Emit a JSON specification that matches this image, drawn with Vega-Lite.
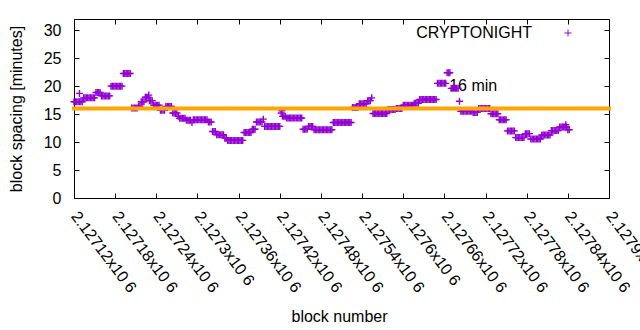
{
  "$schema": "https://vega.github.io/schema/vega-lite/v6.json",
  "width": 535,
  "height": 179,
  "autosize": {"type": "none"},
  "padding": {"left": 74, "top": 19, "right": 31, "bottom": 132},
  "config": {
    "font": "Liberation Sans",
    "view": {"stroke": "#000000", "strokeWidth": 1},
    "axis": {
      "domain": false, "grid": false, "tickColor": "#000000", "tickWidth": 1, "tickSize": -5,
      "labelColor": "#000000", "labelFont": "Liberation Sans", "labelFontSize": 16,
      "titleColor": "#000000", "titleFont": "Liberation Sans", "titleFontSize": 16, "titleFontWeight": "normal"
    }
  },
  "datasets": {
    "pts": [
      {"b":2127120,"v":17.2},{"b":2127122,"v":17.2},{"b":2127124,"v":17.2},{"b":2127126,"v":17.2},{"b":2127128,"v":17.2},{"b":2127130,"v":17.2},{"b":2127132,"v":17.2},
      {"b":2127128,"v":18.7},
      {"b":2127134,"v":17.9},{"b":2127136,"v":17.9},{"b":2127138,"v":17.9},{"b":2127140,"v":17.9},{"b":2127142,"v":17.9},{"b":2127144,"v":17.9},{"b":2127146,"v":17.9},{"b":2127148,"v":17.9},{"b":2127150,"v":17.9},
      {"b":2127152,"v":18.85},{"b":2127154,"v":18.85},{"b":2127156,"v":18.85},{"b":2127158,"v":18.85},
      {"b":2127160,"v":18.25},{"b":2127162,"v":18.25},{"b":2127164,"v":18.25},{"b":2127166,"v":18.25},{"b":2127168,"v":18.25},{"b":2127170,"v":18.25},{"b":2127172,"v":18.25},
      {"b":2127174,"v":20.0},{"b":2127176,"v":20.0},{"b":2127178,"v":20.0},{"b":2127180,"v":20.0},{"b":2127182,"v":20.0},{"b":2127184,"v":20.0},{"b":2127186,"v":20.0},{"b":2127188,"v":20.0},{"b":2127190,"v":20.0},
      {"b":2127192,"v":22.25},{"b":2127194,"v":22.25},{"b":2127196,"v":22.25},{"b":2127198,"v":22.25},{"b":2127200,"v":22.25},{"b":2127202,"v":22.25},
      {"b":2127204,"v":16.1},{"b":2127206,"v":16.1},{"b":2127208,"v":16.1},{"b":2127210,"v":16.1},{"b":2127212,"v":16.1},
      {"b":2127214,"v":16.4},{"b":2127216,"v":16.4},
      {"b":2127218,"v":17.2},{"b":2127220,"v":17.2},{"b":2127222,"v":17.2},
      {"b":2127224,"v":18.0},{"b":2127226,"v":18.0},{"b":2127228,"v":18.0},
      {"b":2127229,"v":18.4},
      {"b":2127230,"v":17.4},{"b":2127232,"v":17.4},{"b":2127234,"v":17.4},
      {"b":2127236,"v":16.6},{"b":2127238,"v":16.6},{"b":2127240,"v":16.6},{"b":2127242,"v":16.6},{"b":2127244,"v":16.6},
      {"b":2127246,"v":15.7},{"b":2127248,"v":15.7},{"b":2127250,"v":15.7},{"b":2127252,"v":15.7},
      {"b":2127254,"v":16.35},{"b":2127256,"v":16.35},{"b":2127258,"v":16.35},{"b":2127260,"v":16.35},{"b":2127262,"v":16.35},
      {"b":2127264,"v":15.2},{"b":2127266,"v":15.2},{"b":2127268,"v":15.2},{"b":2127270,"v":15.2},
      {"b":2127272,"v":14.6},
      {"b":2127274,"v":14.25},{"b":2127276,"v":14.25},{"b":2127278,"v":14.25},{"b":2127280,"v":14.25},{"b":2127282,"v":14.25},
      {"b":2127284,"v":13.9},{"b":2127286,"v":13.9},{"b":2127288,"v":13.9},{"b":2127290,"v":13.9},
      {"b":2127292,"v":13.5},
      {"b":2127294,"v":14.0},{"b":2127296,"v":14.0},{"b":2127298,"v":14.0},{"b":2127300,"v":14.0},{"b":2127302,"v":14.0},{"b":2127304,"v":14.0},{"b":2127306,"v":14.0},{"b":2127308,"v":14.0},{"b":2127310,"v":14.0},{"b":2127312,"v":14.0},{"b":2127314,"v":14.0},
      {"b":2127316,"v":13.6},{"b":2127318,"v":13.6},{"b":2127320,"v":13.6},
      {"b":2127322,"v":11.9},{"b":2127324,"v":11.9},{"b":2127326,"v":11.9},
      {"b":2127328,"v":11.3},{"b":2127330,"v":11.3},{"b":2127332,"v":11.3},{"b":2127334,"v":11.3},{"b":2127336,"v":11.3},{"b":2127338,"v":11.3},
      {"b":2127340,"v":10.7},{"b":2127342,"v":10.7},
      {"b":2127344,"v":10.3},{"b":2127346,"v":10.3},{"b":2127348,"v":10.3},{"b":2127350,"v":10.3},{"b":2127352,"v":10.3},{"b":2127354,"v":10.3},{"b":2127356,"v":10.3},{"b":2127358,"v":10.3},{"b":2127360,"v":10.3},{"b":2127362,"v":10.3},{"b":2127364,"v":10.3},{"b":2127366,"v":10.3},
      {"b":2127368,"v":11.7},{"b":2127370,"v":11.7},{"b":2127372,"v":11.7},{"b":2127374,"v":11.7},{"b":2127376,"v":11.7},{"b":2127378,"v":11.7},
      {"b":2127380,"v":12.3},{"b":2127382,"v":12.3},{"b":2127384,"v":12.3},
      {"b":2127386,"v":13.6},{"b":2127388,"v":13.6},{"b":2127390,"v":13.6},{"b":2127392,"v":13.6},{"b":2127394,"v":13.6},
      {"b":2127396,"v":14.1},
      {"b":2127398,"v":12.8},{"b":2127400,"v":12.8},{"b":2127402,"v":12.8},{"b":2127404,"v":12.8},{"b":2127406,"v":12.8},{"b":2127408,"v":12.8},{"b":2127410,"v":12.8},{"b":2127412,"v":12.8},{"b":2127414,"v":12.8},{"b":2127416,"v":12.8},{"b":2127418,"v":12.8},{"b":2127420,"v":12.8},
      {"b":2127422,"v":15.2},{"b":2127423,"v":15.6},
      {"b":2127424,"v":14.6},{"b":2127426,"v":14.6},{"b":2127428,"v":14.6},
      {"b":2127430,"v":14.3},{"b":2127432,"v":14.3},{"b":2127434,"v":14.3},{"b":2127436,"v":14.3},{"b":2127438,"v":14.3},{"b":2127440,"v":14.3},{"b":2127442,"v":14.3},{"b":2127444,"v":14.3},{"b":2127446,"v":14.3},{"b":2127448,"v":14.3},{"b":2127450,"v":14.3},{"b":2127452,"v":14.3},
      {"b":2127454,"v":12.3},{"b":2127456,"v":12.3},{"b":2127458,"v":12.3},{"b":2127460,"v":12.3},
      {"b":2127462,"v":12.8},{"b":2127464,"v":12.8},{"b":2127466,"v":12.8},{"b":2127468,"v":12.8},
      {"b":2127470,"v":12.2},{"b":2127472,"v":12.2},{"b":2127474,"v":12.2},{"b":2127476,"v":12.2},{"b":2127478,"v":12.2},{"b":2127480,"v":12.2},{"b":2127482,"v":12.2},{"b":2127484,"v":12.2},{"b":2127486,"v":12.2},{"b":2127488,"v":12.2},{"b":2127490,"v":12.2},{"b":2127492,"v":12.2},{"b":2127494,"v":12.2},{"b":2127496,"v":12.2},
      {"b":2127498,"v":13.5},{"b":2127500,"v":13.5},{"b":2127502,"v":13.5},{"b":2127504,"v":13.5},{"b":2127506,"v":13.5},{"b":2127508,"v":13.5},{"b":2127510,"v":13.5},{"b":2127512,"v":13.5},{"b":2127514,"v":13.5},{"b":2127516,"v":13.5},{"b":2127518,"v":13.5},{"b":2127520,"v":13.5},{"b":2127522,"v":13.5},{"b":2127524,"v":13.5},
      {"b":2127526,"v":16.2},{"b":2127528,"v":16.2},{"b":2127530,"v":16.2},{"b":2127532,"v":16.2},{"b":2127534,"v":16.2},
      {"b":2127536,"v":16.85},{"b":2127538,"v":16.85},{"b":2127540,"v":16.85},{"b":2127542,"v":16.85},{"b":2127544,"v":16.85},{"b":2127546,"v":16.85},
      {"b":2127548,"v":17.4},{"b":2127550,"v":17.4},{"b":2127552,"v":17.4},{"b":2127554,"v":17.9},
      {"b":2127556,"v":15.1},{"b":2127558,"v":15.1},{"b":2127560,"v":15.1},{"b":2127562,"v":15.1},{"b":2127564,"v":15.1},{"b":2127566,"v":15.1},{"b":2127568,"v":15.1},{"b":2127570,"v":15.1},{"b":2127572,"v":15.1},{"b":2127574,"v":15.1},{"b":2127576,"v":15.1},
      {"b":2127578,"v":15.8},{"b":2127580,"v":15.8},{"b":2127582,"v":15.8},{"b":2127584,"v":15.8},{"b":2127586,"v":15.8},{"b":2127588,"v":15.8},
      {"b":2127590,"v":16.0},{"b":2127592,"v":16.0},{"b":2127594,"v":16.0},{"b":2127596,"v":16.0},{"b":2127598,"v":16.0},
      {"b":2127600,"v":16.6},{"b":2127602,"v":16.6},{"b":2127604,"v":16.6},{"b":2127606,"v":16.6},{"b":2127608,"v":16.6},{"b":2127610,"v":16.6},{"b":2127612,"v":16.6},{"b":2127614,"v":16.6},
      {"b":2127616,"v":16.95},{"b":2127618,"v":16.95},{"b":2127620,"v":16.95},{"b":2127622,"v":16.95},
      {"b":2127624,"v":17.6},{"b":2127626,"v":17.6},{"b":2127628,"v":17.6},{"b":2127630,"v":17.6},{"b":2127632,"v":17.6},{"b":2127634,"v":17.6},{"b":2127636,"v":17.6},{"b":2127638,"v":17.6},{"b":2127640,"v":17.6},{"b":2127642,"v":17.6},{"b":2127644,"v":17.6},{"b":2127646,"v":17.6},{"b":2127648,"v":17.6},
      {"b":2127650,"v":20.5},{"b":2127652,"v":20.5},{"b":2127654,"v":20.5},{"b":2127656,"v":20.5},{"b":2127658,"v":20.5},{"b":2127660,"v":20.5},{"b":2127662,"v":20.5},
      {"b":2127664,"v":22.4},{"b":2127666,"v":22.4},{"b":2127668,"v":22.4},
      {"b":2127670,"v":19.6},{"b":2127672,"v":19.6},{"b":2127674,"v":19.6},{"b":2127676,"v":19.6},{"b":2127678,"v":19.6},{"b":2127680,"v":19.6},
      {"b":2127682,"v":17.3},
      {"b":2127684,"v":15.5},{"b":2127686,"v":15.5},{"b":2127688,"v":15.5},{"b":2127690,"v":15.5},{"b":2127692,"v":15.5},{"b":2127694,"v":15.5},{"b":2127696,"v":15.5},{"b":2127698,"v":15.5},{"b":2127700,"v":15.5},
      {"b":2127702,"v":15.3},{"b":2127704,"v":15.3},{"b":2127706,"v":15.3},{"b":2127708,"v":15.3},
      {"b":2127710,"v":16.0},{"b":2127712,"v":16.0},{"b":2127714,"v":16.0},{"b":2127716,"v":16.0},{"b":2127718,"v":16.0},{"b":2127720,"v":16.0},{"b":2127722,"v":16.0},{"b":2127724,"v":16.0},{"b":2127726,"v":16.0},
      {"b":2127728,"v":15.05},{"b":2127730,"v":15.05},{"b":2127732,"v":15.05},{"b":2127734,"v":15.05},{"b":2127736,"v":15.05},{"b":2127738,"v":15.05},
      {"b":2127740,"v":14.0},{"b":2127742,"v":14.0},{"b":2127744,"v":14.0},{"b":2127746,"v":14.0},{"b":2127748,"v":14.0},{"b":2127750,"v":14.0},
      {"b":2127752,"v":12.0},{"b":2127754,"v":12.0},{"b":2127756,"v":12.0},{"b":2127758,"v":12.0},{"b":2127760,"v":12.0},{"b":2127762,"v":12.0},
      {"b":2127764,"v":10.8},{"b":2127766,"v":10.8},{"b":2127768,"v":10.8},{"b":2127770,"v":10.8},{"b":2127772,"v":10.8},{"b":2127774,"v":10.8},{"b":2127776,"v":10.8},
      {"b":2127778,"v":11.5},{"b":2127780,"v":11.5},{"b":2127782,"v":11.5},{"b":2127784,"v":11.5},
      {"b":2127786,"v":10.55},{"b":2127788,"v":10.55},{"b":2127790,"v":10.55},{"b":2127792,"v":10.55},{"b":2127794,"v":10.55},{"b":2127796,"v":10.55},{"b":2127798,"v":10.55},{"b":2127800,"v":10.55},
      {"b":2127802,"v":11.25},{"b":2127804,"v":11.25},{"b":2127806,"v":11.25},{"b":2127808,"v":11.25},{"b":2127810,"v":11.25},{"b":2127812,"v":11.25},{"b":2127814,"v":11.25},
      {"b":2127816,"v":12.05},{"b":2127818,"v":12.05},{"b":2127820,"v":12.05},{"b":2127822,"v":12.05},{"b":2127824,"v":12.05},{"b":2127826,"v":12.05},
      {"b":2127828,"v":12.7},{"b":2127830,"v":12.7},{"b":2127832,"v":12.7},{"b":2127834,"v":12.7},{"b":2127836,"v":12.7},{"b":2127838,"v":12.7},
      {"b":2127837,"v":13.1},
      {"b":2127840,"v":12.2},{"b":2127842,"v":12.2}
    ]
  },
  "resolve": {"axis": {"x": "independent", "y": "independent"}},
  "layer": [
    {
      "data": {"values": [{"b": 2127667, "v": 20, "t": "16 min"}]},
      "mark": {"type": "text", "align": "left", "baseline": "middle", "fontSize": 16, "font": "Liberation Sans", "color": "#000000"},
      "encoding": {
        "x": {"field": "b", "type": "quantitative", "scale": {"domain": [2127120, 2127900], "nice": false, "zero": false},
              "axis": {"orient": "top", "labels": false, "title": null, "values": [2127120,2127180,2127240,2127300,2127360,2127420,2127480,2127540,2127600,2127660,2127720,2127780,2127840,2127900]}},
        "y": {"field": "v", "type": "quantitative", "scale": {"domain": [0, 32], "nice": false, "zero": false},
              "axis": {"orient": "right", "labels": false, "title": null, "values": [0,5,10,15,20,25,30]}},
        "text": {"field": "t"}
      }
    },
    {
      "data": {"name": "pts"},
      "mark": {"type": "point", "shape": "M-1,0H1M0,-1V1", "size": 49, "filled": false, "strokeWidth": 1.4, "opacity": 1},
      "encoding": {
        "x": {"field": "b", "type": "quantitative", "scale": {"domain": [2127120, 2127900], "nice": false, "zero": false},
              "axis": {"orient": "bottom", "title": "block number", "titleX": 265, "titleY": 118, "titleBaseline": "middle", "titleAlign": "center",
                       "labelAngle": 53, "labelAlign": "left", "labelBaseline": "middle", "labelPadding": 20, "labelOverlap": false, "labelFlush": false,
                       "values": [2127120,2127180,2127240,2127300,2127360,2127420,2127480,2127540,2127600,2127660,2127720,2127780,2127840,2127900],
                       "labelExpr": "format(datum.value / 1000000, '.5~f') + 'x10 6'"}},
        "y": {"field": "v", "type": "quantitative", "scale": {"domain": [0, 32], "nice": false, "zero": false},
              "axis": {"orient": "left", "title": "block spacing [minutes]", "titleX": -58, "titleY": 89.5, "titleAngle": -90, "titleBaseline": "middle", "titleAlign": "center",
                       "labelPadding": 18, "labelAlign": "right", "labelBaseline": "middle", "values": [0,5,10,15,20,25,30]}},
        "color": {"datum": "CRYPTONIGHT", "type": "nominal", "scale": {"range": ["#9400D3"]},
                  "legend": {"title": null, "orient": "none", "legendX": 486, "legendY": 6, "padding": 0,
                             "symbolType": "M-1,0H1M0,-1V1", "symbolSize": 49, "symbolStrokeWidth": 1, "symbolFillColor": "transparent",
                             "labelAlign": "right", "labelOffset": -44, "labelFontSize": 16, "labelFont": "Liberation Sans", "labelColor": "#000000"}}
      }
    },
    {
      "data": {"values": [{"v": 16}]},
      "mark": {"type": "rule", "color": "#FFA500", "strokeWidth": 4, "strokeCap": "square"},
      "encoding": {"y": {"field": "v", "type": "quantitative", "axis": null}}
    }
  ]
}
